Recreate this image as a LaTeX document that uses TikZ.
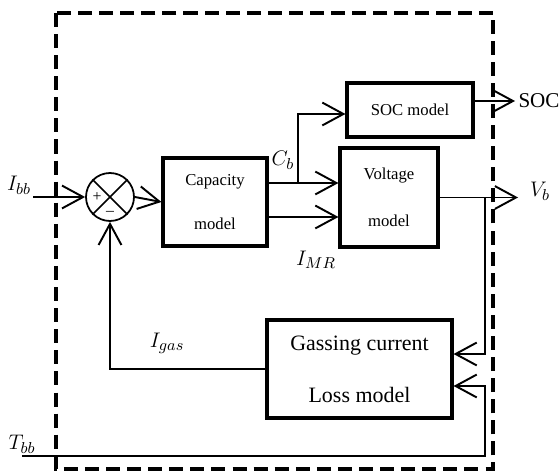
\documentclass[tikz,border=0pt]{standalone}
\usepackage{fontspec}
\setmainfont{Liberation Serif}
\usetikzlibrary{arrows.meta,positioning}

\newcommand{\boxfont}{\fontsize{9.5}{11.5}\selectfont}
\newcommand{\bigboxfont}{\fontsize{12.5}{14.5}\selectfont}

\tikzset{
  blk/.style={draw, line width=1.8pt, align=center, inner sep=0pt},
  wire/.style={line width=1.1pt},
  arr/.style={wire, -{Straight Barb[length=12pt,width=13pt]}},
  lbl/.style={font=\fontsize{12.5}{14}\selectfont, inner sep=1pt},
  frame/.style={line width=2.5pt, dash pattern=on 8pt off 4pt},
}

\begin{document}
\begin{tikzpicture}[x=0.02cm,y=-0.02cm]
\useasboundingbox (0,0) rectangle (560,472);
% dashed frame
\draw[frame] (56,13) rectangle (493,469);

% summing point
\node[circle, draw, line width=1pt, minimum size=0.96cm, inner sep=0pt] (sum) at (110,197) {};
\draw[line width=1pt] (sum.north west) -- (sum.south east) (sum.north east) -- (sum.south west);
\node[font=\small, inner sep=0pt] (plus) at ([xshift=-0.26cm]sum.center) {+};
\node[font=\small, inner sep=0pt] (minus) at ([yshift=-0.32cm]sum.center) {–};

% blocks
\node[blk, minimum width=2.08cm, minimum height=1.76cm, font=\boxfont] (cap) at (215,202) {Capacity\\[13.5pt]model};
\node[blk, minimum width=1.96cm, minimum height=1.98cm, font=\boxfont] (volt) at (389,197.5) {Voltage\\[15.5pt]model};
\node[blk, minimum width=2.52cm, minimum height=1.08cm, font=\boxfont] (soc) at (410,110) {SOC model};
\node[blk, minimum width=3.7cm, minimum height=1.96cm, font=\bigboxfont] (gas) at (359.5,369) {Gassing current\\[15pt]Loss model};

% input current
\coordinate (ibb) at (33,197);
\draw[arr] (ibb) -- (sum.west);
\node[lbl] (ibblbl) at (19,185) {$I_{bb}$};
\draw[arr] (sum.east) -- (cap.west);

% capacity to voltage
\coordinate (cbout) at ([yshift=0.38cm]cap.east);
\coordinate (imrout) at ([yshift=-0.30cm]cap.east);
\draw[arr] (cbout) -- (cbout -| volt.west);
\draw[arr] (imrout) -- (imrout -| volt.west);
\node[lbl] (cblbl) at (283,160) {$C_b$};
\node[lbl] (imrlbl) at (316,260) {$I_{MR}$};

% capacity to SOC
\coordinate (cbsplit) at (298,183);
\coordinate (socin) at ([yshift=-0.08cm]soc.west);
\draw[arr] (cbsplit) |- (socin);
\coordinate (socout) at ([yshift=0.18cm]soc.east);
\coordinate (socend) at (515,101);
\draw[arr] (socout) -- (socend);
\node[font=\fontsize{12}{14}\selectfont, inner sep=0pt] (soclbl) at (539,101) {SOC};

% voltage out
\coordinate (vbend) at (518,197.5);
\draw[arr] (volt.east) -- (vbend);
\node[lbl] (vblbl) at (540,191) {$V_b$};
\coordinate (vbtap) at (485,197.5);
\draw[arr] (vbtap) |- ([yshift=0.30cm]gas.east);

% temperature
\coordinate (tbb) at (22,456);
\coordinate (tbbturn) at (485,456);
\draw[arr] (tbb) -- (tbbturn) |- ([yshift=-0.34cm]gas.east);
\node[lbl] (tbblbl) at (22,444) {$T_{bb}$};

% gassing feedback
\draw[arr] (gas.west) -| (sum.south);
\node[lbl] (igaslbl) at (167,343) {$I_{gas}$};
\end{tikzpicture}
\end{document}
